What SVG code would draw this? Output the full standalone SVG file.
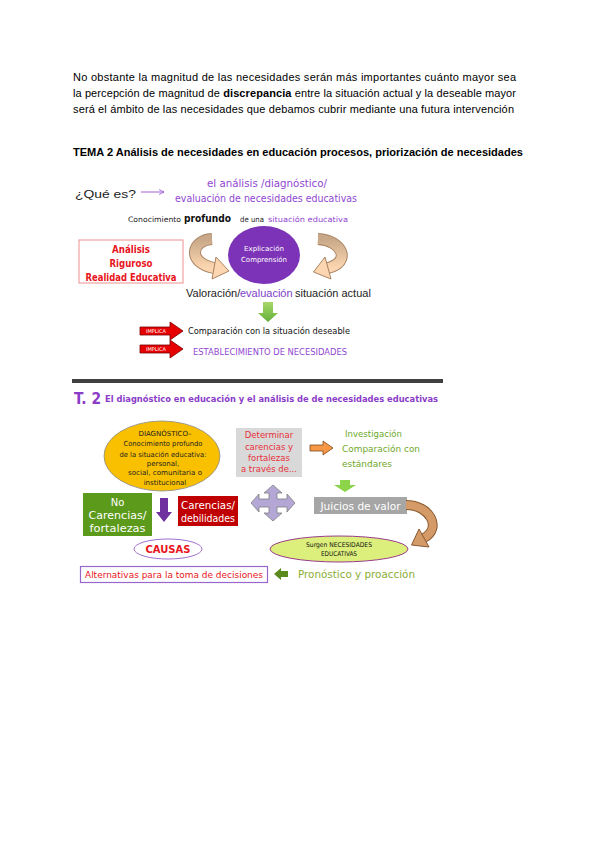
<svg xmlns="http://www.w3.org/2000/svg" width="600" height="848" viewBox="0 0 600 848">
<style>
.p{font-family:"Liberation Sans",Arial,sans-serif;font-size:11px;fill:#000}
.d{font-family:"DejaVu Sans","Liberation Sans",sans-serif}
.pu{fill:#9146d2}
.c{text-anchor:middle}
.w{fill:#fff}
.r{fill:#e8141c}
.g{fill:#6fa82a}
</style>
<defs>
<marker id="ah" markerWidth="6" markerHeight="6" refX="5" refY="3" orient="auto" markerUnits="userSpaceOnUse">
<path d="M0,0.5 L5,3 L0,5.5" fill="none" stroke="#9a50d0" stroke-width="0.8"/>
</marker>
<linearGradient id="gg" x1="0" y1="0" x2="0" y2="1"><stop offset="0" stop-color="#a8d86a"/><stop offset="1" stop-color="#62b03a"/></linearGradient>
<linearGradient id="pe" x1="0" y1="0" x2="0" y2="1"><stop offset="0" stop-color="#c8a888"/><stop offset="1" stop-color="#fcd6b0"/></linearGradient>
</defs>
<rect width="600" height="848" fill="#fff"/>

<g id="paragraph">
<text class="p" x="73" y="81" textLength="443" lengthAdjust="spacing">No obstante la magnitud de las necesidades serán más importantes cuánto mayor sea</text>
<text class="p" x="73" y="97" textLength="443" lengthAdjust="spacing">la percepción de magnitud de <tspan font-weight="bold">discrepancia</tspan> entre la situación actual y la deseable mayor</text>
<text class="p" x="73" y="113" textLength="441" lengthAdjust="spacing">será el ámbito de las necesidades que debamos cubrir mediante una futura intervención</text>
</g>

<g id="title1">
<text class="p" x="73" y="156" font-weight="bold" textLength="450" lengthAdjust="spacingAndGlyphs">TEMA 2 Análisis de necesidades en educación procesos, priorización de necesidades</text>
</g>

<!-- Diagram 1 -->
<g id="que-es"><text class="p" x="75" y="198" font-size="14" style="fill:#222" textLength="61" lengthAdjust="spacingAndGlyphs">¿Qué es?</text></g>
<g id="definicion">
<text class="d pu" x="207" y="187" font-size="10" textLength="120" lengthAdjust="spacingAndGlyphs">el análisis /diagnóstico/</text>
<text class="d pu" x="175" y="202" font-size="10" textLength="182" lengthAdjust="spacingAndGlyphs">evaluación de necesidades educativas</text>
</g>
<g id="conocimiento" class="d">
<text x="128" y="222" font-size="7.5" fill="#222" textLength="53" lengthAdjust="spacingAndGlyphs">Conocimiento</text>
<text x="184" y="222" font-size="11" font-weight="bold" fill="#111" textLength="47" lengthAdjust="spacingAndGlyphs">profundo</text>
<text x="240" y="222" font-size="7.5" fill="#222" textLength="24" lengthAdjust="spacingAndGlyphs">de una</text>
<text class="pu" x="268" y="222" font-size="7.5" textLength="80" lengthAdjust="spacingAndGlyphs">situación educativa</text>
</g>
<g id="analisis-riguroso">
<rect x="79" y="240" width="104" height="43" fill="#fff" stroke="#f09090" stroke-width="1"/>
<text class="d r c" x="131" y="253" font-size="10" font-weight="bold" textLength="38" lengthAdjust="spacingAndGlyphs">Análisis</text>
<text class="d r c" x="131" y="267" font-size="10" font-weight="bold" textLength="43" lengthAdjust="spacingAndGlyphs">Riguroso</text>
<text class="d r c" x="131" y="281" font-size="10" font-weight="bold" textLength="91" lengthAdjust="spacingAndGlyphs">Realidad Educativa</text>
</g>
<g id="explicacion">
<ellipse cx="264" cy="255" rx="36" ry="29" fill="#7d33b8"/>
<text class="d w c" x="264" y="251" font-size="7" textLength="40" lengthAdjust="spacingAndGlyphs">Explicación</text>
<text class="d w c" x="264" y="262" font-size="7" textLength="46" lengthAdjust="spacingAndGlyphs">Comprensión</text>
</g>
<g id="valoracion">
<text class="p" x="186" y="297" font-size="10" style="fill:#222">Valoración/</text>
<text class="p" x="240" y="297" font-size="10.5" style="fill:#8040c8">evaluación</text>
<text class="p" x="295" y="297" font-size="11" style="fill:#222">situación actual</text>
</g>
<g id="comparacion">
<text class="d" x="188" y="334" font-size="9" fill="#111" textLength="162" lengthAdjust="spacingAndGlyphs">Comparación con la situación deseable</text>
</g>
<g id="establecimiento">
<text class="d pu" x="193" y="355" font-size="9" textLength="154" lengthAdjust="spacingAndGlyphs">ESTABLECIMIENTO DE NECESIDADES</text>
</g>

<g id="connectors1">
<line x1="141" y1="192" x2="164" y2="192" stroke="#9a50d0" stroke-width="0.9" marker-end="url(#ah)"/>
<path d="M212 239 C192 240 186 262 214 268" fill="none" stroke="#a98363" stroke-width="12"/>
<path d="M212 239 C192 240 186 262 214 268" fill="none" stroke="url(#pe)" stroke-width="10"/>
<polygon points="216,257 229,271 212,279" fill="#fcd6b0" stroke="#a98363" stroke-width="1"/>
<path d="M318 239 C342 240 352 262 328 268" fill="none" stroke="#a98363" stroke-width="12"/>
<path d="M318 239 C342 240 352 262 328 268" fill="none" stroke="url(#pe)" stroke-width="10"/>
<polygon points="325,257 313.5,272 331,279" fill="#fcd6b0" stroke="#a98363" stroke-width="1"/>
<polygon points="263,302 273,302 273,313 278,313 268,322 258,313 263,313" fill="url(#gg)"/>
<g>
<polygon points="140,327 170,327 170,322 183,331 170,340 170,335 140,335" fill="#e60000" stroke="#7a0000" stroke-width="0.8"/>
<text class="d w c" x="156" y="333" font-size="5">IMPLICA</text>
</g>
<g>
<polygon points="140,345 170,345 170,340 183,349 170,358 170,353 140,353" fill="#e60000" stroke="#7a0000" stroke-width="0.8"/>
<text class="d w c" x="156" y="351" font-size="5">IMPLICA</text>
</g>
</g>

<!-- Diagram 2 -->
<rect id="bar" x="72" y="379" width="371" height="4" fill="#404040"/>
<g id="title2">
<text class="d" x="74" y="404" font-size="16" font-weight="bold" fill="#8a3cc8" textLength="27" lengthAdjust="spacingAndGlyphs">T. 2</text>
<text class="d" x="105" y="402" font-size="9.5" font-weight="bold" fill="#8a3cc8" textLength="333" lengthAdjust="spacingAndGlyphs">El diagnóstico en educación y el análisis de de necesidades educativas</text>
</g>
<g id="diagnostico">
<ellipse cx="162" cy="456" rx="58" ry="35" fill="#f9c000" stroke="#8a8a8a" stroke-width="0.8"/>
<g class="d c" font-size="7" fill="#222">
<text x="165" y="436">DIAGNÓSTICO–</text>
<text x="163" y="446" textLength="79" lengthAdjust="spacingAndGlyphs">Conocimiento profundo</text>
<text x="163" y="457" textLength="87" lengthAdjust="spacingAndGlyphs">de la situación educativa:</text>
<text x="163" y="466">personal,</text>
<text x="165" y="475" textLength="74" lengthAdjust="spacingAndGlyphs">social, comunitaria o</text>
<text x="165" y="485">institucional</text>
</g>
</g>
<g id="determinar">
<rect x="236" y="428" width="66" height="49" fill="#d9d9d9"/>
<g class="d c" font-size="8.5" fill="#e8303a">
<text x="269" y="438">Determinar</text>
<text x="269" y="450">carencias y</text>
<text x="269" y="461">fortalezas</text>
<text x="269" y="472">a través de...</text>
</g>
</g>
<g id="investigacion">
<text class="d g" x="345" y="437" font-size="9" textLength="57" lengthAdjust="spacingAndGlyphs">Investigación</text>
<text class="d g" x="342" y="452" font-size="9.5" textLength="78" lengthAdjust="spacingAndGlyphs">Comparación con</text>
<text class="d g" x="342" y="467" font-size="9.5" textLength="50" lengthAdjust="spacingAndGlyphs">estándares</text>
</g>
<g id="juicios">
<rect x="314" y="497" width="93" height="17" fill="#a6a6a6"/>
<text class="d w c" x="360.5" y="509.5" font-size="11" textLength="80" lengthAdjust="spacingAndGlyphs">Juicios de valor</text>
</g>
<g id="no-carencias">
<rect x="83" y="493" width="69" height="43" fill="#5b9a1a"/>
<g class="d w c" font-size="10">
<text x="117.5" y="506">No</text>
<text x="117.5" y="519" textLength="58" lengthAdjust="spacingAndGlyphs">Carencias/</text>
<text x="117.5" y="532" textLength="56" lengthAdjust="spacingAndGlyphs">fortalezas</text>
</g>
</g>
<g id="carencias">
<rect x="178" y="496" width="60" height="30" fill="#c00000"/>
<text class="d w c" x="208" y="509" font-size="10.5" textLength="54" lengthAdjust="spacingAndGlyphs">Carencias/</text>
<text class="d w c" x="208" y="522" font-size="10.5" textLength="54" lengthAdjust="spacingAndGlyphs">debilidades</text>
</g>
<g id="causas">
<ellipse cx="168" cy="549" rx="34" ry="10" fill="#fff" stroke="#a070d0" stroke-width="1"/>
<text class="d r c" x="168" y="553" font-size="11" font-weight="bold" textLength="45" lengthAdjust="spacingAndGlyphs">CAUSAS</text>
</g>
<g id="surgen">
<ellipse cx="339" cy="549" rx="69" ry="13" fill="#dcef7c" stroke="#9a3c8c" stroke-width="1"/>
<text class="d c" x="339" y="547" font-size="6.5" fill="#111" textLength="66" lengthAdjust="spacingAndGlyphs">Surgen NECESIDADES</text>
<text class="d c" x="339" y="556" font-size="6.5" fill="#111" textLength="36" lengthAdjust="spacingAndGlyphs">EDUCATIVAS</text>
</g>
<g id="alternativas">
<rect x="80.5" y="566.5" width="187" height="16" fill="#fff" stroke="#9966cc" stroke-width="1.2"/>
<text class="d r c" x="174" y="578" font-size="9.5" textLength="178" lengthAdjust="spacingAndGlyphs">Alternativas para la toma de decisiones</text>
</g>
<g id="pronostico">
<text class="d" x="298" y="578" font-size="11" fill="#8aae34" textLength="117" lengthAdjust="spacingAndGlyphs">Pronóstico y proacción</text>
</g>

<g id="connectors2">
<polygon points="310,445 323,445 323,441 333,448 323,455 323,451 310,451" fill="#f79646" stroke="#7f4a1a" stroke-width="0.8"/>
<polygon points="340,480 350,480 350,485 356,485 345,492 334,485 340,485" fill="#8cd44a"/>
<polygon points="160,498 168,498 168,512 172,512 164,522 156,512 160,512" fill="#7030a0"/>
<polygon points="273,485 282,493 277,493 277,499 287,499 287,494 295,503 287,512 287,507 277,507 277,513 282,513 273,521 264,513 269,513 269,507 259,507 259,512 251,503 259,494 259,499 269,499 269,493 264,493" fill="#b4a7d6" stroke="#7f7f7f" stroke-width="0.8"/>
<path d="M406 505 C430 505 442 528 424 538" fill="none" stroke="#8a5a30" stroke-width="10"/>
<path d="M406 505 C430 505 442 528 424 538" fill="none" stroke="#d49a68" stroke-width="8"/>
<polygon points="419,529 411.5,545 429,547" fill="#d49a68" stroke="#8a5a30" stroke-width="1"/>
<polygon points="274,574 281,568 281,571 288,571 288,577 281,577 281,580" fill="#5c8a1e"/>
</g>
</svg>
